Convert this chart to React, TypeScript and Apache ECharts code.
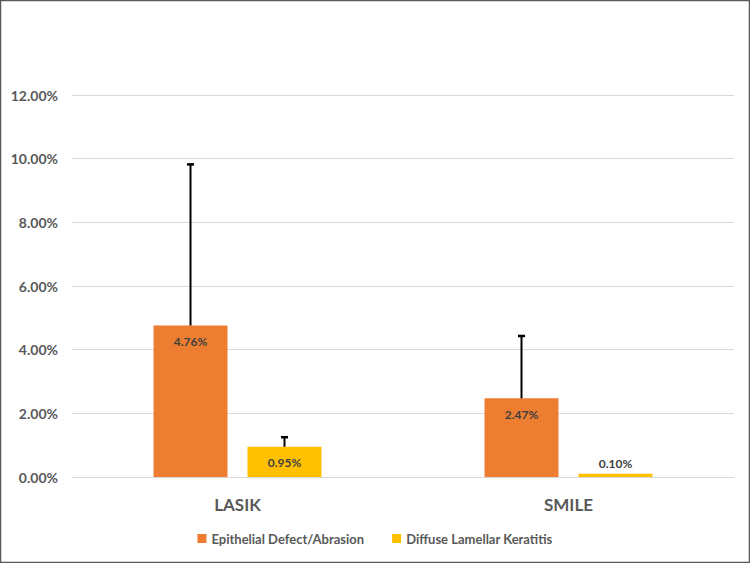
import React, { useEffect, useRef } from "react";
import * as echarts from "echarts";

const categories = ["LASIK", "SMILE"];
const seriesNames = ["Epithelial Defect/Abrasion", "Diffuse Lamellar Keratitis"];
const epithelial = [4.76, 2.47];
const dlk = [0.95, 0.1];
const epithelialErr = [5.06, 1.96];
const dlkErr = [0.3, 0];
const yTicks = [0, 2, 4, 6, 8, 10, 12];

const FONT = "Lato";

export default function App() {
  const ref = useRef<HTMLDivElement>(null);
  useEffect(() => {
    document.body.style.margin = "0";
    const chart = echarts.init(ref.current!, null, { renderer: "svg" });
    const errSeries = (vals: number[], errs: number[], idx: number) => ({
      type: "custom",
      name: "err" + idx,
      silent: true,
      z: 10,
      data: vals.map((v, i) => [i, v, v + errs[i]]),
      renderItem: (params: any, api: any) => {
        const ci = api.value(0);
        const lo = api.coord([ci, api.value(1)]);
        const hi = api.coord([ci, api.value(2)]);
        const barW = 74;
        const gap = 20;
        const offset = idx === 0 ? -(gap / 2 + barW / 2) : gap / 2 + barW / 2;
        const x = lo[0] + offset;
        if (api.value(2) - api.value(1) <= 0) return null;
        return {
          type: "group",
          children: [
            { type: "line", shape: { x1: x, y1: lo[1], x2: x, y2: hi[1] }, style: { stroke: "#000", lineWidth: 2 } },
            { type: "line", shape: { x1: x - 3.5, y1: hi[1], x2: x + 3.5, y2: hi[1] }, style: { stroke: "#000", lineWidth: 2.5 } },
          ],
        };
      },
    });
    chart.setOption({
      animation: false,
      backgroundColor: "#fff",
      grid: { left: 72, right: 16, top: 95, bottom: 86 },
      legend: {
        bottom: 13,
        left: "center",
        itemWidth: 9,
        itemHeight: 9,
        itemGap: 28,
        icon: "rect",
        data: seriesNames,
        textStyle: { fontFamily: FONT, fontSize: 13, fontWeight: "bold", color: "#595959" },
      },
      xAxis: {
        type: "category",
        data: categories,
        axisTick: { show: false },
        axisLine: { lineStyle: { color: "#d9d9d9", width: 1 } },
        axisLabel: { fontFamily: FONT, fontSize: 17, fontWeight: "bold", color: "#595959", margin: 19 },
      },
      yAxis: {
        type: "value",
        min: yTicks[0],
        max: yTicks[yTicks.length - 1],
        interval: 2,
        axisLine: { show: false },
        axisTick: { show: false },
        splitLine: { lineStyle: { color: "#d9d9d9", width: 1 } },
        axisLabel: {
          fontFamily: FONT,
          fontSize: 14,
          fontWeight: "bold",
          color: "#595959",
          margin: 14,
          formatter: (v: number) => v.toFixed(2) + "%",
        },
      },
      series: [
        {
          type: "bar",
          name: seriesNames[0],
          data: epithelial.map((v) => ({ value: v, label: { position: v > 0.5 ? "insideTop" : "top" } })),
          barWidth: 74,
          barGap: "27%",
          itemStyle: { color: "#ed7d31" },
          label: {
            show: true,
            distance: 10,
            fontFamily: FONT,
            fontSize: 12,
            fontWeight: "bold",
            color: "#404040",
            formatter: (p: any) => p.value.toFixed(2) + "%",
          },
        },
        {
          type: "bar",
          name: seriesNames[1],
          data: dlk.map((v) => ({ value: v, label: { position: v > 0.5 ? "insideTop" : "top", distance: v > 0.5 ? 10 : 4 } })),
          barWidth: 74,
          barGap: "27%",
          itemStyle: { color: "#ffc000" },
          label: {
            show: true,
            fontFamily: FONT,
            fontSize: 12,
            fontWeight: "bold",
            color: "#404040",
            formatter: (p: any) => p.value.toFixed(2) + "%",
          },
        },
        errSeries(epithelial, epithelialErr, 0),
        errSeries(dlk, dlkErr, 1),
      ],
      graphic: [
        {
          type: "rect",
          shape: { x: 0.5, y: 0.5, width: 749, height: 562 },
          style: { fill: "none", stroke: "#595959", lineWidth: 1.5 },
          silent: true,
        },
      ],
    });
    return () => chart.dispose();
  }, []);
  return <div ref={ref} style={{ width: 750, height: 563, position: "absolute", left: 0, top: 0 }} />;
}
